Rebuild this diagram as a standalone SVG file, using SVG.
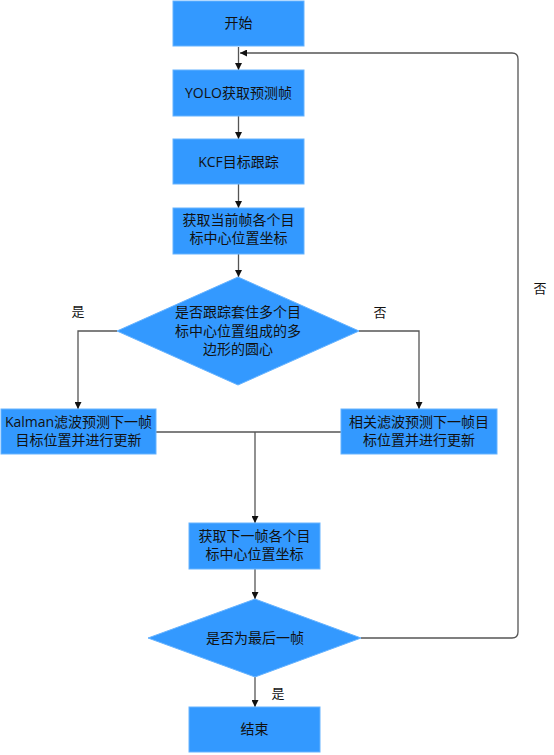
<svg xmlns="http://www.w3.org/2000/svg" width="554" height="755" viewBox="0 0 554 755">
<defs>
<marker id="ah" viewBox="0 0 10 10" refX="10" refY="5" markerWidth="7" markerHeight="7" orient="auto" markerUnits="userSpaceOnUse">
<path d="M0,0 L10,5 L0,10 z" fill="#111"/>
</marker>
<style>
.box{fill:#3399FF;stroke:#66B3FF;stroke-width:1}
.t{font-family:"Open Sans","Noto Sans CJK SC",sans-serif;font-size:14px;fill:#111;text-anchor:middle}
.lbl{font-family:"Noto Sans CJK SC",sans-serif;font-size:13px;fill:#111;text-anchor:middle}
.ln{fill:none;stroke:#555;stroke-width:1.3}
.arr{marker-end:url(#ah)}
</style>
</defs>
<rect width="554" height="755" fill="#fff"/>
<g id="connectors">
<path class="ln arr" d="M238.5,47 V70"/>
<path class="ln arr" d="M238.5,116 V139"/>
<path class="ln arr" d="M238.5,184 V208"/>
<path class="ln arr" d="M238.5,254 V277"/>
<path class="ln arr" d="M117,331 H78 V409"/>
<path class="ln arr" d="M359,331 H419 V409"/>
<path class="ln" d="M156,432 H255"/>
<path class="ln" d="M341,432 H255"/>
<path class="ln arr" d="M255,432 V523"/>
<path class="ln arr" d="M255,569 V599"/>
<path class="ln arr" d="M255,677 V707"/>
<path class="ln arr" d="M361,638 H512 Q518,638 518,632 V59 Q518,53 512,53 H240"/>
</g>
<g id="start"><rect class="box" x="173" y="1" width="131" height="45"/><text class="t" x="238.5" y="28">开始</text></g>
<g id="yolo"><rect class="box" x="173" y="70" width="131" height="46"/><text class="t" x="238.5" y="98">YOLO获取预测帧</text></g>
<g id="kcf"><rect class="box" x="173" y="139" width="131" height="45"/><text class="t" x="238.5" y="167">KCF目标跟踪</text></g>
<g id="getcur"><rect class="box" x="173" y="208" width="131" height="46"/><text class="t" x="238.5" y="225">获取当前帧各个目</text><text class="t" x="238.5" y="243">标中心位置坐标</text></g>
<g id="dec1"><polygon class="box" points="238,277 359,331 238,385 117,331" stroke="#555"/><text class="t" x="238" y="317">是否跟踪套住多个目</text><text class="t" x="238" y="336">标中心位置组成的多</text><text class="t" x="238" y="354">边形的圆心</text></g>
<g id="kalman"><rect class="box" x="1" y="409" width="155" height="45"/><text class="t" x="78.5" y="427">Kalman滤波预测下一帧</text><text class="t" x="78.5" y="445">目标位置并进行更新</text></g>
<g id="corr"><rect class="box" x="341" y="409" width="156" height="45"/><text class="t" x="419" y="427">相关滤波预测下一帧目</text><text class="t" x="419" y="445">标位置并进行更新</text></g>
<g id="getnext"><rect class="box" x="189" y="523" width="131" height="46"/><text class="t" x="254.5" y="541">获取下一帧各个目</text><text class="t" x="254.5" y="559">标中心位置坐标</text></g>
<g id="dec2"><polygon class="box" points="255,599 361,638 255,677 148,638" stroke="#555"/><text class="t" x="255" y="643">是否为最后一帧</text></g>
<g id="end"><rect class="box" x="189" y="707" width="131" height="45"/><text class="t" x="254.5" y="734">结束</text></g>
<g id="labels">
<text class="lbl" x="78" y="316">是</text>
<text class="lbl" x="380" y="317">否</text>
<text class="lbl" x="540" y="293">否</text>
<text class="lbl" x="278" y="698">是</text>
</g>
</svg>
